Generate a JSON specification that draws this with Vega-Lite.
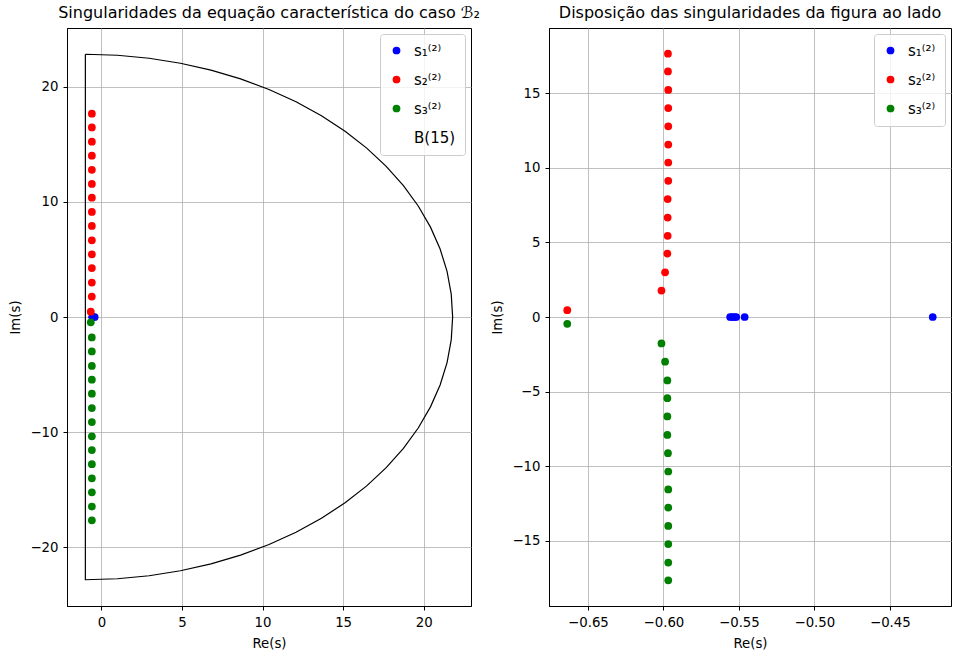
{
  "$schema": "https://vega.github.io/schema/vega-lite/v6.json",
  "background": "white",
  "padding": {"left": 8, "top": 4, "right": 2, "bottom": 2},
  "spacing": 9,
  "config": {
    "font": "DejaVu Sans",
    "view": {"stroke": "black", "strokeWidth": 1},
    "axis": {
      "labelFont": "DejaVu Sans", "labelFontSize": 13.3, "labelColor": "black",
      "tickColor": "black", "domainColor": "black", "tickSize": 4, "labelPadding": 5,
      "titleFont": "DejaVu Sans", "titleFontSize": 13.3, "titleFontWeight": "normal", "titleColor": "black",
      "grid": true, "gridColor": "#b0b0b0", "gridWidth": 0.8, "labelFlush": false
    },
    "axisX": {"titlePadding": 8},
    "axisY": {"titlePadding": 7},
    "legend": {
      "orient": "top-right", "offset": 6, "labelFont": "DejaVu Sans", "labelFontSize": 15, "labelColor": "black",
      "strokeColor": "#cccccc", "fillColor": "rgba(255,255,255,0.8)", "padding": 9, "cornerRadius": 3,
      "rowPadding": 13, "symbolSize": 60, "labelOffset": 10
    },
    "title": {"font": "DejaVu Sans", "fontSize": 16, "fontWeight": "normal", "color": "black", "offset": 7}
  },
  "datasets": {
    "pts": [
      {"series": "s₁⁽²⁾", "re": -0.5558, "im": 0},
      {"series": "s₁⁽²⁾", "re": -0.5545, "im": 0},
      {"series": "s₁⁽²⁾", "re": -0.5530, "im": 0},
      {"series": "s₁⁽²⁾", "re": -0.5518, "im": 0},
      {"series": "s₁⁽²⁾", "re": -0.5462, "im": 0},
      {"series": "s₁⁽²⁾", "re": -0.4216, "im": 0},
      {"series": "s₂⁽²⁾", "re": -0.5970, "im": 17.64},
      {"series": "s₂⁽²⁾", "re": -0.5970, "im": 16.45},
      {"series": "s₂⁽²⁾", "re": -0.5968, "im": 15.21},
      {"series": "s₂⁽²⁾", "re": -0.5968, "im": 14.0},
      {"series": "s₂⁽²⁾", "re": -0.5968, "im": 12.77},
      {"series": "s₂⁽²⁾", "re": -0.5968, "im": 11.55},
      {"series": "s₂⁽²⁾", "re": -0.5968, "im": 10.35},
      {"series": "s₂⁽²⁾", "re": -0.5968, "im": 9.12},
      {"series": "s₂⁽²⁾", "re": -0.5972, "im": 7.9},
      {"series": "s₂⁽²⁾", "re": -0.5972, "im": 6.66},
      {"series": "s₂⁽²⁾", "re": -0.5972, "im": 5.44},
      {"series": "s₂⁽²⁾", "re": -0.5974, "im": 4.25},
      {"series": "s₂⁽²⁾", "re": -0.5989, "im": 2.99},
      {"series": "s₂⁽²⁾", "re": -0.6013, "im": 1.77},
      {"series": "s₂⁽²⁾", "re": -0.6637, "im": 0.46},
      {"series": "s₃⁽²⁾", "re": -0.6637, "im": -0.46},
      {"series": "s₃⁽²⁾", "re": -0.6013, "im": -1.77},
      {"series": "s₃⁽²⁾", "re": -0.5989, "im": -2.99},
      {"series": "s₃⁽²⁾", "re": -0.5974, "im": -4.25},
      {"series": "s₃⁽²⁾", "re": -0.5974, "im": -5.44},
      {"series": "s₃⁽²⁾", "re": -0.5974, "im": -6.66},
      {"series": "s₃⁽²⁾", "re": -0.5974, "im": -7.9},
      {"series": "s₃⁽²⁾", "re": -0.5970, "im": -9.12},
      {"series": "s₃⁽²⁾", "re": -0.5968, "im": -10.35},
      {"series": "s₃⁽²⁾", "re": -0.5968, "im": -11.55},
      {"series": "s₃⁽²⁾", "re": -0.5968, "im": -12.77},
      {"series": "s₃⁽²⁾", "re": -0.5968, "im": -14.0},
      {"series": "s₃⁽²⁾", "re": -0.5968, "im": -15.21},
      {"series": "s₃⁽²⁾", "re": -0.5968, "im": -16.45},
      {"series": "s₃⁽²⁾", "re": -0.5968, "im": -17.64}
    ],
    "curve": [
      {"k": 0, "re": -1, "im": 22.8},
      {"k": 1, "re": 0.987, "im": 22.713},
      {"k": 2, "re": 2.959, "im": 22.454},
      {"k": 3, "re": 4.901, "im": 22.023},
      {"k": 4, "re": 6.798, "im": 21.425},
      {"k": 5, "re": 8.636, "im": 20.664},
      {"k": 6, "re": 10.4, "im": 19.745},
      {"k": 7, "re": 12.078, "im": 18.677},
      {"k": 8, "re": 13.656, "im": 17.466},
      {"k": 9, "re": 15.122, "im": 16.122},
      {"k": 10, "re": 16.466, "im": 14.656},
      {"k": 11, "re": 17.677, "im": 13.078},
      {"k": 12, "re": 18.745, "im": 11.4},
      {"k": 13, "re": 19.664, "im": 9.636},
      {"k": 14, "re": 20.425, "im": 7.798},
      {"k": 15, "re": 21.023, "im": 5.901},
      {"k": 16, "re": 21.454, "im": 3.959},
      {"k": 17, "re": 21.713, "im": 1.987},
      {"k": 18, "re": 21.8, "im": 0},
      {"k": 19, "re": 21.713, "im": -1.987},
      {"k": 20, "re": 21.454, "im": -3.959},
      {"k": 21, "re": 21.023, "im": -5.901},
      {"k": 22, "re": 20.425, "im": -7.798},
      {"k": 23, "re": 19.664, "im": -9.636},
      {"k": 24, "re": 18.745, "im": -11.4},
      {"k": 25, "re": 17.677, "im": -13.078},
      {"k": 26, "re": 16.466, "im": -14.656},
      {"k": 27, "re": 15.122, "im": -16.122},
      {"k": 28, "re": 13.656, "im": -17.466},
      {"k": 29, "re": 12.078, "im": -18.677},
      {"k": 30, "re": 10.4, "im": -19.745},
      {"k": 31, "re": 8.636, "im": -20.664},
      {"k": 32, "re": 6.798, "im": -21.425},
      {"k": 33, "re": 4.901, "im": -22.023},
      {"k": 34, "re": 2.959, "im": -22.454},
      {"k": 35, "re": 0.987, "im": -22.713},
      {"k": 36, "re": -1, "im": -22.8},
      {"k": 37, "re": -1, "im": 22.8}
    ]
  },
  "resolve": {"scale": {"color": "independent", "shape": "independent"}},
  "hconcat": [
    {
      "width": 404,
      "height": 578,
      "title": "Singularidades da equação característica do caso ℬ₂",
      "layer": [
        {
          "data": {"name": "curve"},
          "mark": {"type": "line", "strokeWidth": 1.2, "clip": true, "color": "black"},
          "encoding": {
            "x": {"field": "re", "type": "quantitative", "scale": {"domain": [-2.14, 22.94], "nice": false, "zero": false}, "axis": {"values": [0, 5, 10, 15, 20], "title": "Re(s)"}},
            "y": {"field": "im", "type": "quantitative", "scale": {"domain": [-25.08, 25.08], "nice": false, "zero": false}, "axis": {"values": [-20, -10, 0, 10, 20], "title": "Im(s)"}},
            "order": {"field": "k", "type": "quantitative"}
          }
        },
        {
          "data": {"name": "pts"},
          "mark": {"type": "point", "filled": true, "opacity": 1, "size": 60},
          "encoding": {
            "x": {"field": "re", "type": "quantitative"},
            "y": {"field": "im", "type": "quantitative"},
            "color": {"field": "series", "type": "nominal", "scale": {"domain": ["s₁⁽²⁾", "s₂⁽²⁾", "s₃⁽²⁾", "B(15)"], "range": ["blue", "red", "green", "black"]},
              "legend": {"title": null, "encode": {"symbols": {
                "stroke": {"condition": {"test": "datum.value === 'B(15)'", "value": "black"}, "value": "transparent"},
                "strokeOpacity": {"value": 1},
                "strokeWidth": {"condition": {"test": "datum.value === 'B(15)'", "value": 1.3}, "value": 0},
                "size": {"condition": {"test": "datum.value === 'B(15)'", "value": 780}, "value": 60}
              }}}},
            "shape": {"field": "series", "type": "nominal", "scale": {"domain": ["s₁⁽²⁾", "s₂⁽²⁾", "s₃⁽²⁾", "B(15)"], "range": ["circle", "circle", "circle", "stroke"]},
              "legend": {"title": null, "encode": {"symbols": {
                "stroke": {"condition": {"test": "datum.value === 'B(15)'", "value": "black"}, "value": "transparent"},
                "strokeOpacity": {"value": 1},
                "strokeWidth": {"condition": {"test": "datum.value === 'B(15)'", "value": 1.3}, "value": 0},
                "size": {"condition": {"test": "datum.value === 'B(15)'", "value": 780}, "value": 60}
              }}}}
          }
        }
      ]
    },
    {
      "width": 402,
      "height": 578,
      "title": "Disposição das singularidades da figura ao lado",
      "data": {"name": "pts"},
      "mark": {"type": "point", "filled": true, "opacity": 1, "size": 60},
      "encoding": {
        "x": {"field": "re", "type": "quantitative", "scale": {"domain": [-0.6758, -0.4095], "nice": false, "zero": false}, "axis": {"values": [-0.65, -0.6, -0.55, -0.5, -0.45], "format": ".2f", "title": "Re(s)"}},
        "y": {"field": "im", "type": "quantitative", "scale": {"domain": [-19.36, 19.36], "nice": false, "zero": false}, "axis": {"values": [-15, -10, -5, 0, 5, 10, 15], "title": "Im(s)"}},
        "color": {"field": "series", "type": "nominal", "scale": {"domain": ["s₁⁽²⁾", "s₂⁽²⁾", "s₃⁽²⁾"], "range": ["blue", "red", "green"]}, "legend": {"title": null}}
      }
    }
  ]
}
